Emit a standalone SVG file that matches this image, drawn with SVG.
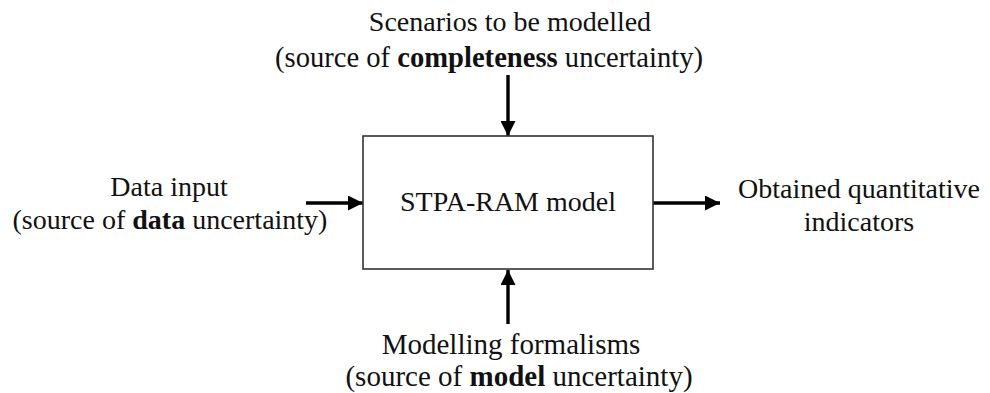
<svg xmlns="http://www.w3.org/2000/svg" width="990" height="393" viewBox="0 0 990 393">
  <style>
    text { font-size: 28px; fill: #111; text-anchor: middle; }
    .b { font-weight: bold; }
    .box { fill: #fff; stroke: #333; stroke-width: 1.6; }
    .conn { stroke: #000; stroke-width: 3.4; fill: none; }
  </style>
  <defs>
    <marker id="arrow" viewBox="0 0 15 15" refX="15" refY="7.5" markerUnits="userSpaceOnUse" markerWidth="15" markerHeight="15" orient="auto">
      <path d="M0,0 L15,7.5 L0,15 Z" fill="#000"/>
    </marker>
  </defs>
  <rect width="990" height="393" fill="#fff"/>

  <g id="connectors">
    <line class="conn" x1="508" y1="75" x2="508" y2="136" marker-end="url(#arrow)"/>
    <line class="conn" x1="508" y1="324" x2="508" y2="270" marker-end="url(#arrow)"/>
    <line class="conn" x1="306" y1="203" x2="363" y2="203" marker-end="url(#arrow)"/>
    <line class="conn" x1="653" y1="203" x2="720" y2="203" marker-end="url(#arrow)"/>
  </g>

  <g font-family="Liberation Serif, Times New Roman, serif">
    <g id="model">
      <rect class="box" x="363" y="136" width="290" height="133"/>
      <text x="508" y="211">STPA-RAM model</text>
    </g>

    <g id="scenarios">
      <text x="510" y="31">Scenarios to be modelled</text>
      <text x="489" y="67" style="font-size:28.6px">(source of <tspan class="b">completeness</tspan> uncertainty)</text>
    </g>

    <g id="data-input">
      <text x="169" y="196">Data input</text>
      <text x="170" y="229">(source of <tspan class="b">data</tspan> uncertainty)</text>
    </g>

    <g id="indicators">
      <text x="859" y="198">Obtained quantitative</text>
      <text x="859" y="231">indicators</text>
    </g>

    <g id="formalisms">
      <text x="511" y="354" style="font-size:29px">Modelling formalisms</text>
      <text x="519" y="386" style="font-size:29px">(source of <tspan class="b">model</tspan> uncertainty)</text>
    </g>
  </g>
</svg>
